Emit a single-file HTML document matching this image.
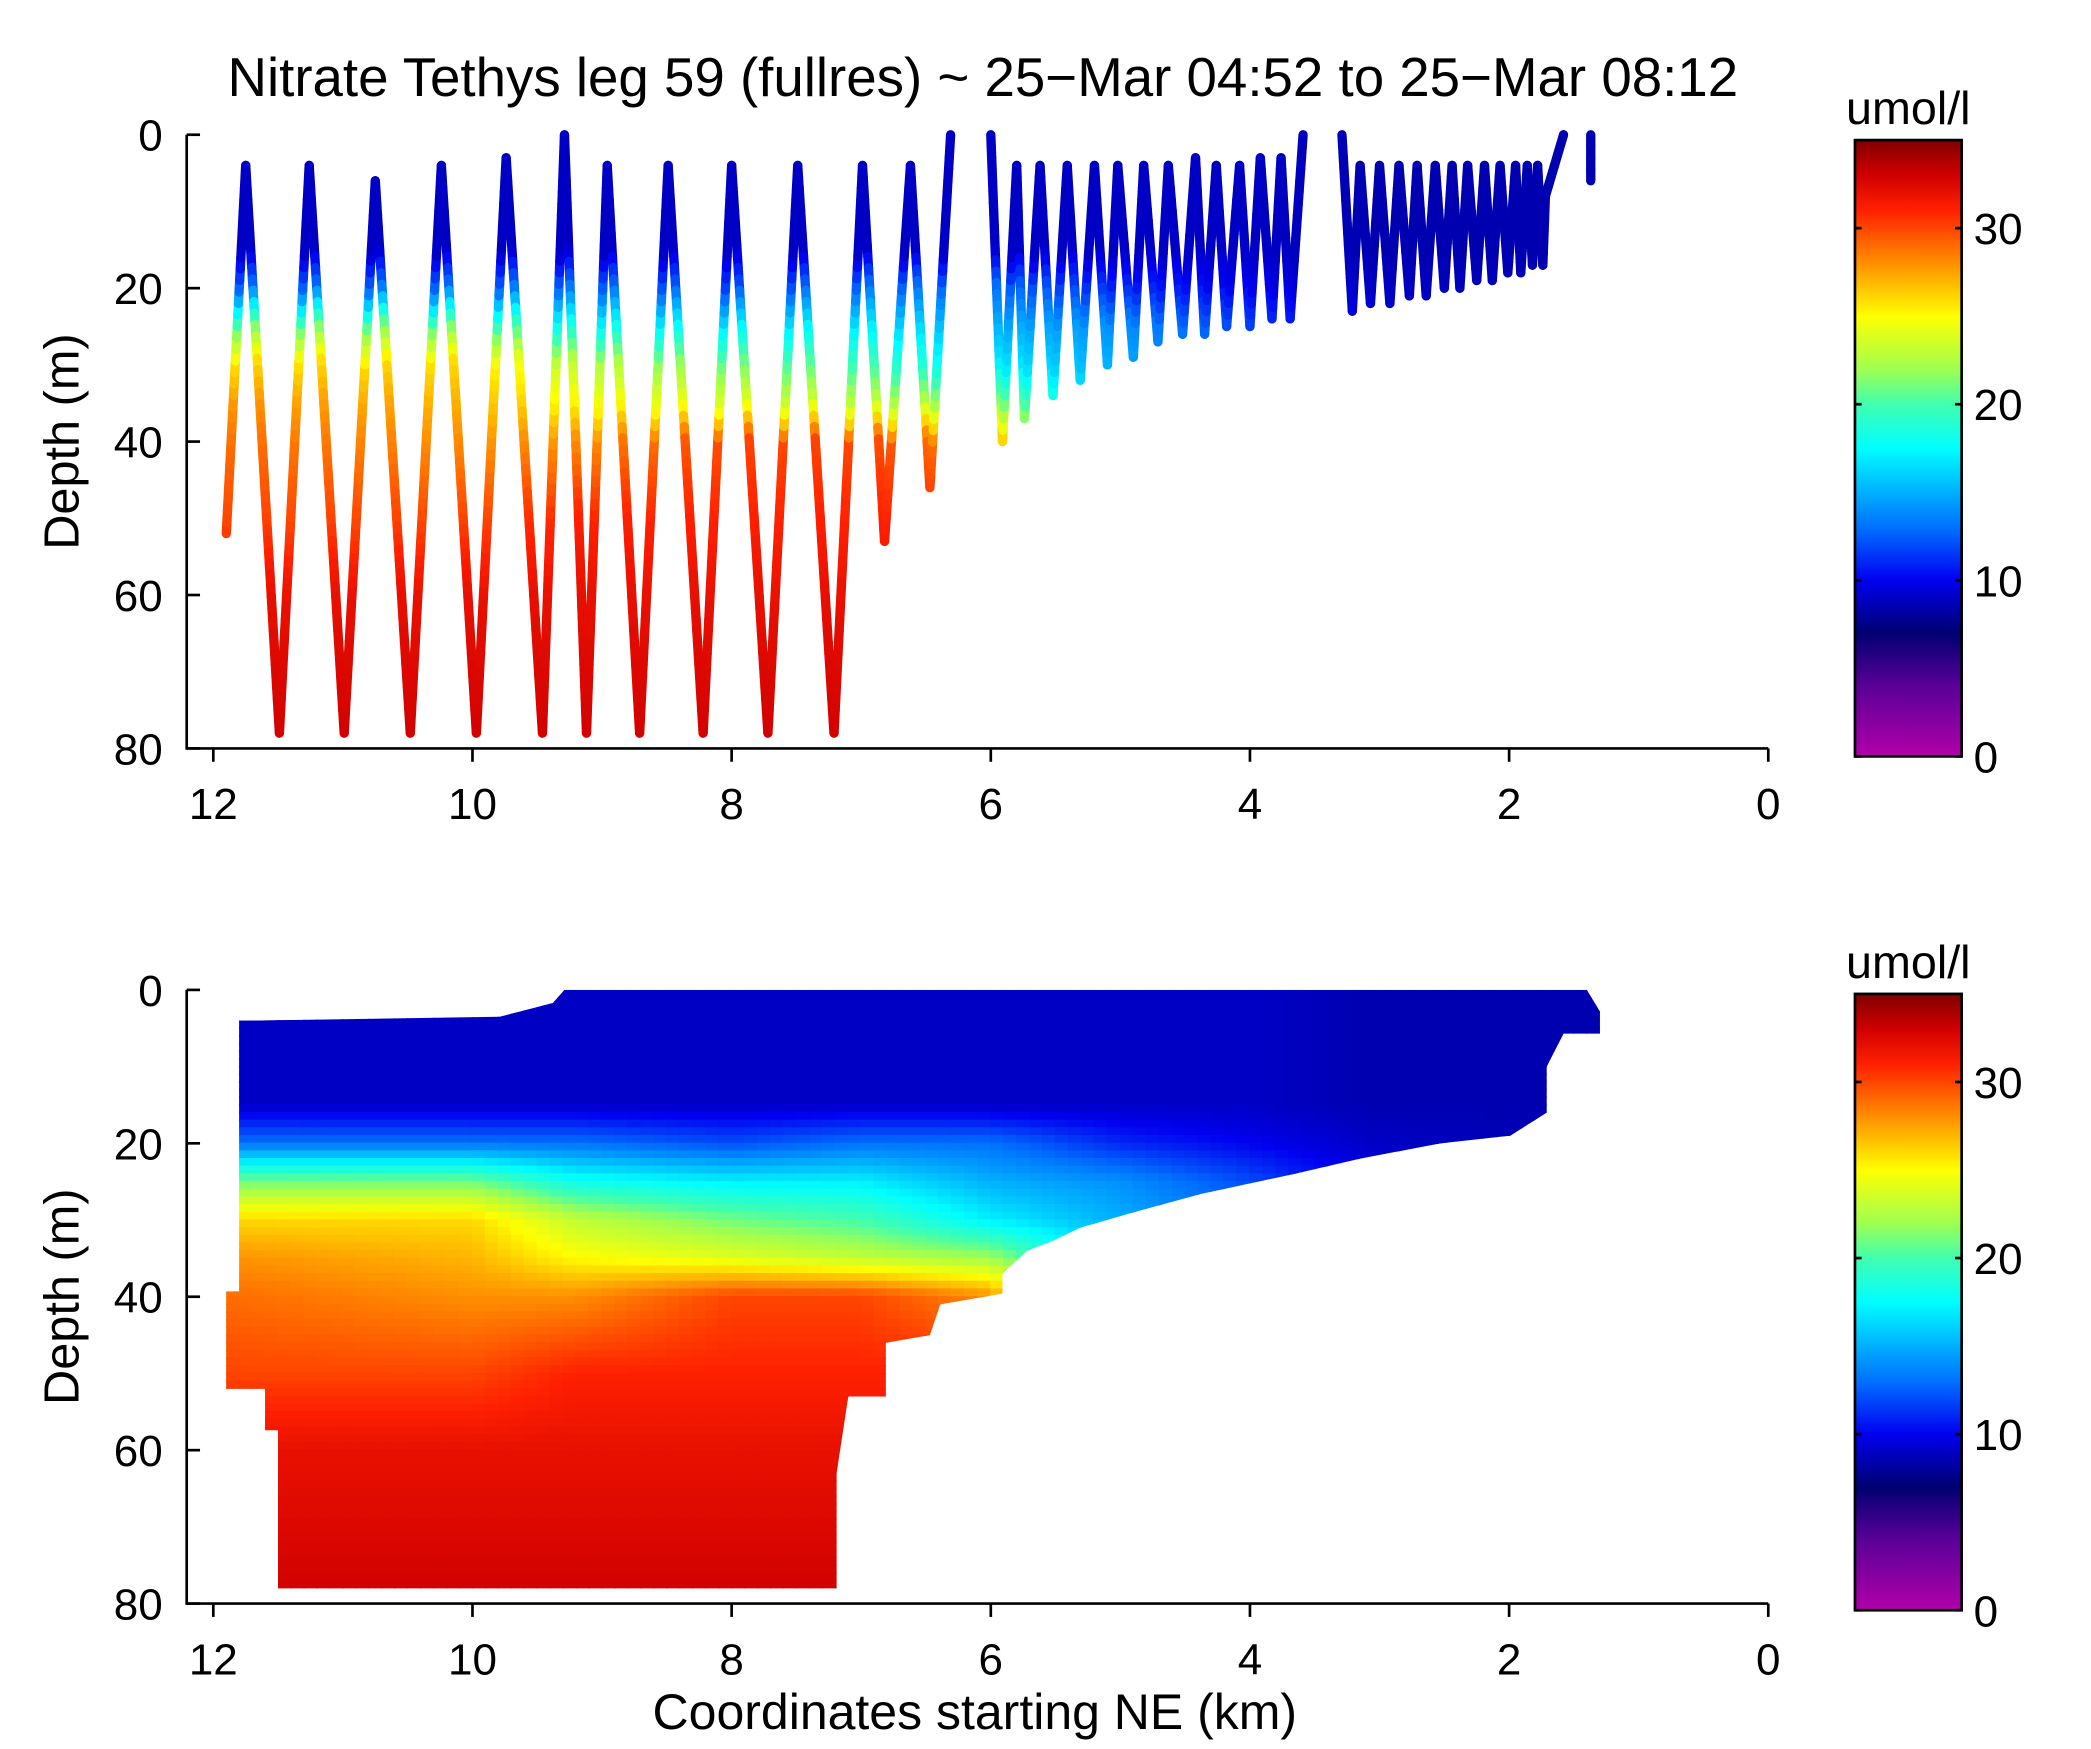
<!DOCTYPE html>
<html><head><meta charset="utf-8"><style>
html,body{margin:0;padding:0;background:#fff;}
svg{display:block;font-family:"Liberation Sans",Arial,sans-serif;}
</style></head><body>
<svg id="fig" width="2091" height="1749" viewBox="0 0 1568 1311" preserveAspectRatio="none" xmlns="http://www.w3.org/2000/svg">
<defs>
<linearGradient id="cbar" x1="0" y1="1" x2="0" y2="0">
<stop offset="0" stop-color="#b000a8"/><stop offset="0.114" stop-color="#5a0098"/><stop offset="0.2" stop-color="#000070"/><stop offset="0.286" stop-color="#0000f0"/><stop offset="0.371" stop-color="#0070ff"/><stop offset="0.5" stop-color="#00ffff"/><stop offset="0.571" stop-color="#40ffb0"/><stop offset="0.629" stop-color="#a0ff50"/><stop offset="0.714" stop-color="#ffff00"/><stop offset="0.8" stop-color="#ff9000"/><stop offset="0.886" stop-color="#ff2000"/><stop offset="0.943" stop-color="#d00000"/><stop offset="1" stop-color="#800000"/>
</linearGradient>
<clipPath id="maskClip"><polygon id="maskPoly"/></clipPath>
</defs>
<text x="737" y="72" font-size="41" text-anchor="middle">Nitrate Tethys leg 59 (fullres) ~ 25−Mar 04:52 to 25−Mar 08:12</text>
<g id="top"></g>
<g id="bot"><g id="field" clip-path="url(#maskClip)"></g></g>
<text x="731" y="1296" font-size="37.5" text-anchor="middle">Coordinates starting NE (km)</text>
</svg>
<script>
// ---- data ----
const cmapVals=[0,4,7,10,13,17.5,20,22,25,28,31,33,35];
const cmapCols=['#b000a8','#5a0098','#000070','#0000f0','#0070ff','#00ffff','#40ffb0','#a0ff50','#ffff00','#ff9000','#ff2000','#d00000','#800000'];
const xTicks=[12,10,8,6,4,2,0];
const yTicks=[0,20,40,60,80];
const cbTicks=[0,10,20,30];
// yo-yo turning points (km, depth), track segments
const trackKm1=[11.9,11.75,11.49,11.26,10.99,10.75,10.48,10.24,9.97,9.74,9.46,9.29,9.12,8.96,8.71,8.49,8.22,8.0,7.72,7.49,7.21,6.99,6.82,6.62,6.47,6.31];
const trackD1=[52,4,78,4,78,6,78,4,78,3,78,0,78,4,78,4,78,4,78,4,78,4,53,4,46,0];
const trackKm2=[6.0,5.91,5.80,5.74,5.62,5.52,5.41,5.31,5.20,5.10,5.02,4.90,4.82,4.71,4.63,4.52,4.42,4.35,4.26,4.18,4.08,4.00,3.92,3.83,3.76,3.69,3.59];
const trackD2=[0,40,4,37,4,34,4,32,4,30,4,29,4,27,4,26,3,26,4,25,4,25,3,24,3,24,0];
const trackKm3=[3.29,3.21,3.15,3.07,3.0,2.92,2.85,2.77,2.71,2.64,2.57,2.50,2.44,2.38,2.32,2.25,2.19,2.13,2.07,2.01,1.95,1.91,1.86,1.82,1.78,1.74,1.72,1.58];
const trackD3=[0,23,4,22,4,22,4,21,4,21,4,20,4,20,4,19,4,19,4,18,4,18,4,17,4,17,8,0];
const trackKm4=[1.37,1.37];
const trackD4=[0,6];
// nitrate profiles at km nodes (values at depthStops)
const depthStops=[0,15,20,25,30,35,40,50,60,80];
const profKm=[12,10,9.2,8,7,6,5,4,3,1.3];
const profVals=[
[9,9,13,21,26,28,29,30,32,33],
[9,9,13,21,26,27,28,30,32,33],
[9,9,13,18,23,25,28,31,32,33],
[9,9,12,17,21,24,30,31,32,33],
[9,9,13,17,20,23,30,31,32,33],
[9,9,13,15,17,22,28,31,32,33],
[9,9,11,14,15,16,16,16,16,16],
[9,9,10,12,13,13,13,13,13,13],
[8.5,8.5,9,9.5,10,10,10,10,10,10],
[8.5,8.5,8.5,8.5,8.5,8.5,8.5,8.5,8.5,8.5]];
// bottom-panel data mask outline
const maskKm=[11.8,11.69,9.79,9.38,9.29,1.40,1.30,1.30,1.58,1.71,1.71,1.99,2.53,3.15,3.66,4.38,4.90,5.31,5.52,5.72,5.91,5.91,6.39,6.47,6.81,6.81,7.10,7.19,7.19,11.5,11.5,11.6,11.6,11.9,11.9,11.8];
const maskD=[4,4,3.5,1.7,0,0,2.8,5.7,5.7,10,16,19,20,22,24,26.6,29,31,32.7,34,37,39.6,41,45,46,53,53,63,78,78,57.4,57.4,52,52,39.3,39.3];

// ---- helpers ----
const NS='http://www.w3.org/2000/svg';
const X0=140,X1=1326;
const xs=km=>1326-97.17*km;
const panels=[{g:'top',y0:101,cb0:105},{g:'bot',y0:742,cb0:745}];
function hex(c){return [parseInt(c.substr(1,2),16),parseInt(c.substr(3,2),16),parseInt(c.substr(5,2),16)];}
function cmap(v){v=Math.max(0,Math.min(35,v));let i=0;while(i<cmapVals.length-2&&v>cmapVals[i+1])i++;
 const t=(v-cmapVals[i])/(cmapVals[i+1]-cmapVals[i]);const a=hex(cmapCols[i]),b=hex(cmapCols[i+1]);
 return 'rgb('+a.map((x,k)=>Math.round(x+(b[k]-x)*t)).join(',')+')';}
function interp(xa,ya,x){if(x<=xa[0])return ya[0];for(let i=0;i<xa.length-1;i++){if(x<=xa[i+1]){const t=(x-xa[i])/(xa[i+1]-xa[i]);return ya[i]+(ya[i+1]-ya[i])*t;}}return ya[ya.length-1];}
function nitrate(km,d){
 let i=0;while(i<profKm.length-2&&km<profKm[i+1])i++;
 const t=Math.max(0,Math.min(1,(profKm[i]-km)/(profKm[i]-profKm[i+1])));
 const a=interp(depthStops,profVals[i],d),b=interp(depthStops,profVals[i+1],d);return a+(b-a)*t;}
function el(tag,attrs,parent){const e=document.createElementNS(NS,tag);for(const k in attrs)e.setAttribute(k,attrs[k]);parent.appendChild(e);return e;}

panels.forEach((p,pi)=>{
 const g=document.getElementById(p.g);
 const ys=d=>p.y0+d*5.75;
 const ax=el('path',{d:`M${X0},${p.y0}V${ys(80)}H${X1}`,fill:'none',stroke:'#000','stroke-width':2},g);
 
 xTicks.forEach(v=>{const x=xs(v);
  const t=el('line',{x1:x,x2:x,y1:ys(80),y2:ys(80)+10,stroke:'#000','stroke-width':2},g);
  
  const l=el('text',{x:x,y:ys(80)+53,'font-size':33,'text-anchor':'middle'},g);l.textContent=v;
  });
 yTicks.forEach(v=>{const y=ys(v);
  const t=el('line',{x1:X0,x2:X0+10,y1:y,y2:y,stroke:'#000','stroke-width':2},g);
  
  const l=el('text',{x:X0-18,y:y+12,'font-size':33,'text-anchor':'end'},g);l.textContent=v;
  });
 const yl=el('text',{x:59,y:ys(40),'font-size':36.5,'text-anchor':'middle',transform:`rotate(-90 59 ${ys(40)})`},g);yl.textContent='Depth (m)';
 
 const cy=v=>p.cb0+462-v*13.2;
 const cb=el('rect',{x:1391,y:p.cb0,width:80,height:462,fill:'url(#cbar)',stroke:'#000','stroke-width':2},g);
 
 cbTicks.forEach(v=>{const y=cy(v);
  el('line',{x1:1391,x2:1396,y1:y,y2:y,stroke:'#000','stroke-width':2},g);
  el('line',{x1:1466,x2:1471,y1:y,y2:y,stroke:'#000','stroke-width':2},g);
  const l=el('text',{x:1480,y:y+12,'font-size':33},g);l.textContent=v;
  });
 const u=el('text',{x:1431,y:p.cb0-12,'font-size':35,'text-anchor':'middle'},g);u.textContent='umol/l';
 
});

// top panel: yo-yo tracks
(function(){
 const g=document.getElementById('top');const ys=d=>101+d*5.75;
 [[trackKm1,trackD1],[trackKm2,trackD2],[trackKm3,trackD3],[trackKm4,trackD4]].forEach(([K,D])=>{
  const tg=el('g',{},g);
  
  
  for(let i=0;i<K.length-1;i++){
   const n=Math.max(2,Math.ceil(Math.abs(D[i+1]-D[i])/1.5));
   for(let j=0;j<n;j++){
    const k0=K[i]+(K[i+1]-K[i])*j/n,k1=K[i]+(K[i+1]-K[i])*(j+1)/n;
    const d0=D[i]+(D[i+1]-D[i])*j/n,d1=D[i]+(D[i+1]-D[i])*(j+1)/n;
    const s=el('line',{x1:xs(k0),y1:ys(d0),x2:xs(k1),y2:ys(d1),stroke:cmap(nitrate((k0+k1)/2,(d0+d1)/2)),'stroke-width':7,'stroke-linecap':'round'},tg);
    
   }
  }
 });
})();

// bottom panel: contour field
(function(){
 const ys=d=>742+d*5.75;
 document.getElementById('maskPoly').setAttribute('points',maskKm.map((k,i)=>xs(k)+','+ys(maskD[i])).join(' '));
 const f=document.getElementById('field');
 
 
 for(let km=12;km>1.2;km-=0.1){
  for(let d=0;d<80;d+=1){
   const r=el('rect',{x:xs(km)-0.5,y:ys(d)-0.5,width:10.8,height:6.8,fill:cmap(nitrate(km-0.05,d+0.5))},f);
   
  }
 }
})();
</script>
</body></html>
